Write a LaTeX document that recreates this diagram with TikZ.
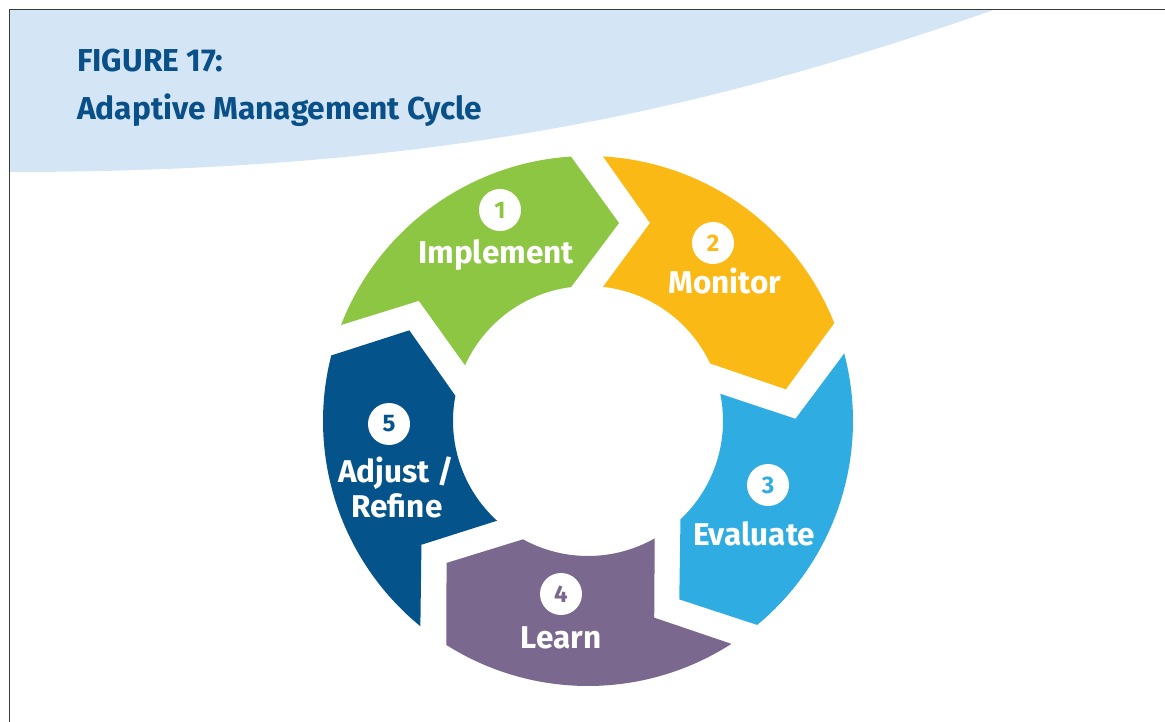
\documentclass[tikz,border=0pt]{standalone}
\usepackage{fontspec}
\setmainfont{Fira Sans}
\usetikzlibrary{positioning}

\definecolor{cband}{HTML}{D4E6F6}
\definecolor{ctitle}{HTML}{0A5088}
\definecolor{cframe}{HTML}{3A3A3A}
\definecolor{cgreen}{HTML}{8DC642}
\definecolor{cyellow}{HTML}{FBB916}
\definecolor{clblue}{HTML}{2FACE2}
\definecolor{cpurple}{HTML}{7A688F}
\definecolor{cdblue}{HTML}{04538A}

\tikzset{
	titletext/.style={anchor=base west, text=ctitle, font=\fontsize{31.7}{36}\selectfont\bfseries, inner sep=0},
	steplabel/.style={text=white, font=\fontsize{31.5}{36}\selectfont\bfseries, align=center, inner sep=0},
	numcircle/.style={circle, fill=white, minimum size=42pt, inner sep=0, font=\fontsize{24}{24}\selectfont\bfseries}
}

\begin{document}
\begin{tikzpicture}[x=1pt,y=1pt]
	\useasboundingbox (0,0) rectangle (1165,-722);
	\pgfmathsetmacro\Ro{265}
	\pgfmathsetmacro\Ri{135}
	
	% band behind the title
	\fill[cband] (9.5,-9.5) -- (995,-9.5) .. controls (720,-105) and (450,-172) .. (9.5,-172) -- cycle;
	\draw[cframe, line width=1.5] (9.5,-722) -- (9.5,-9.5) -- (1165,-9.5);
	
	\node[titletext] (fig) at (77,-72) {FIGURE 17:};
	\node[titletext] (ttl) at (77,-120) {Adaptive Management Cycle};
	
	% ring of arrows
	\begin{scope}[shift={(588,-421)}]
		\foreach \k/\col in {1/cgreen,2/cyellow,3/clblue,4/cpurple,5/cdblue} {
			\pgfmathsetmacro\RH{-72*(\k-1)}
			\pgfmathsetmacro\RT{\RH+72}
			\fill[\col] (\RT+86.76:\Ro) arc[start angle=\RT+86.76, end angle=\RH+93.68, radius=\Ro]
				-- (\RH+81.10:200.4)
				-- (\RH+97.23:\Ri) arc[start angle=\RH+97.23, end angle=\RT+83.62, radius=\Ri]
				-- (\RT+72.61:207.5) -- cycle;
		}
	\end{scope}
	
	\node[numcircle, text=cgreen] (n1) at (500,-210) {1};
	\node[numcircle, text=cyellow] (n2) at (713,-243) {2};
	\node[numcircle, text=clblue] (n3) at (768,-485) {3};
	\node[numcircle, text=cpurple] (n4) at (561,-594) {4};
	\node[numcircle, text=cdblue] (n5) at (389,-424) {5};
	
	\node[steplabel, anchor=base] (l1) at (496,-263) {Implement};
	\node[steplabel, anchor=base] (l2) at (725,-294) {Monitor};
	\node[steplabel, anchor=base] (l3) at (754,-545) {Evaluate};
	\node[steplabel, anchor=base] (l4) at (561,-648) {Learn};
	\node[steplabel, anchor=base] (l5) at (396,-482) {Adjust /};
	\node[steplabel, anchor=base] (l6) at (397,-517) {Refine};
\end{tikzpicture}
\end{document}
